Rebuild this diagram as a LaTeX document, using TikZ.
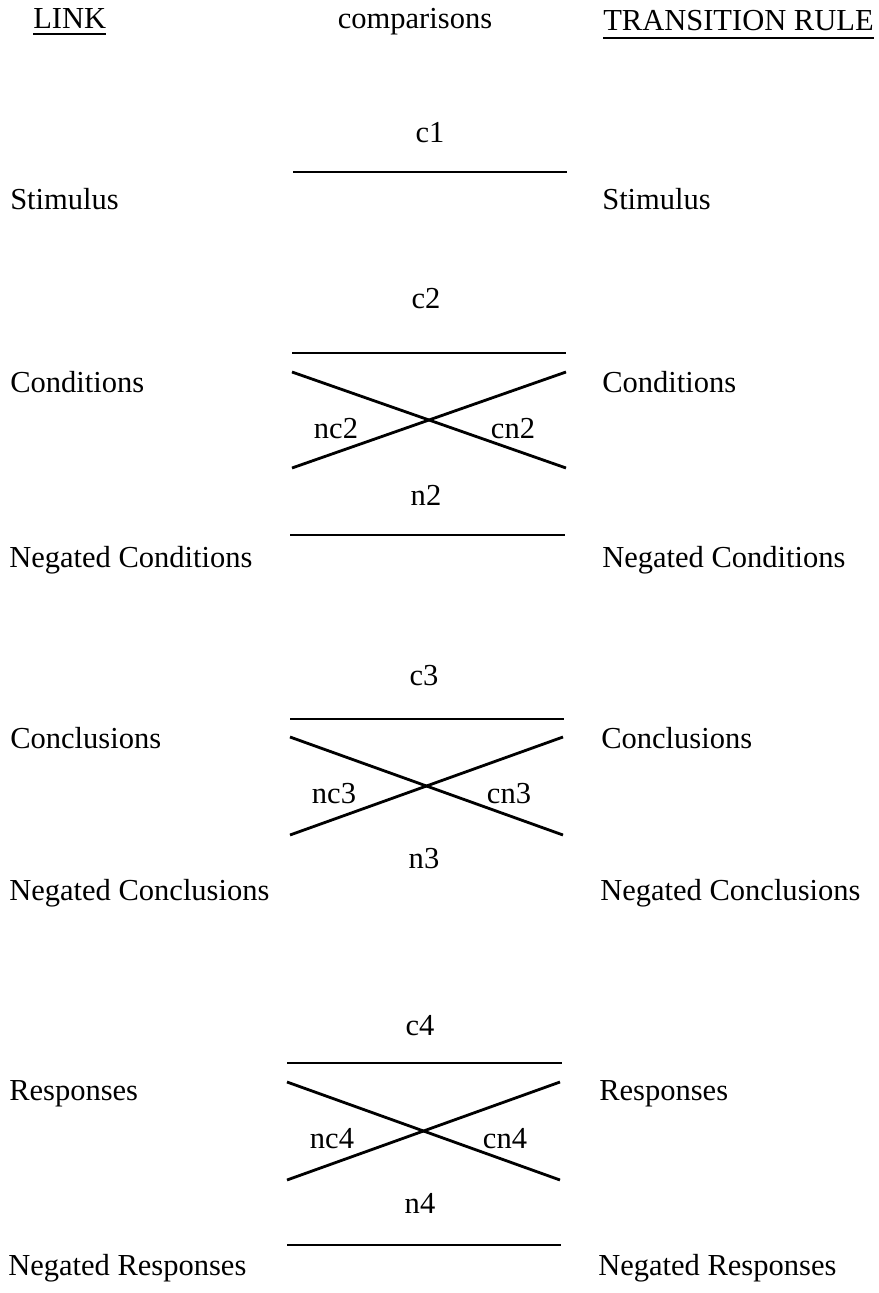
\documentclass[tikz,border=0pt]{standalone}
\usepackage{fontspec}
\setmainfont{Liberation Serif}
\usetikzlibrary{calc}

\begin{document}
\begin{tikzpicture}[x=0.025cm, y=-0.025cm,
  every node/.style={font=\fontsize{21.7}{25}\selectfont, inner sep=0pt},
  rowlabel/.style={anchor=base west},
  cmplabel/.style={anchor=base},
  cmpline/.style={line width=2pt}]
\useasboundingbox (0,0) rectangle (879,1293);
% headings
\node[rowlabel] (link) at (33,29) {LINK};
\node[cmplabel] (comp) at (415,29) {comparisons};
\node[rowlabel] (rule) at (603,31) {TRANSITION RULE};
\draw[line width=1.5pt] ($(link.base west)+(0,5)$) -- ($(link.base east)+(0,5)$);
\draw[line width=1.5pt] ($(rule.base west)+(0,7)$) -- ($(rule.base east)+(0,7)$);
% rows, link side
\node[rowlabel] (stimL) at (10,210) {Stimulus};
\node[rowlabel] (condL) at (10,392) {Conditions};
\node[rowlabel] (ncondL) at (9,567) {Negated Conditions};
\node[rowlabel] (conclL) at (10,748) {Conclusions};
\node[rowlabel] (nconclL) at (9,900) {Negated Conclusions};
\node[rowlabel] (respL) at (9,1100) {Responses};
\node[rowlabel] (nrespL) at (8,1275) {Negated Responses};
% rows, rule side
\node[rowlabel] (stimR) at (602,210) {Stimulus};
\node[rowlabel] (condR) at (602,392) {Conditions};
\node[rowlabel] (ncondR) at (602,567) {Negated Conditions};
\node[rowlabel] (conclR) at (601,748) {Conclusions};
\node[rowlabel] (nconclR) at (600,900) {Negated Conclusions};
\node[rowlabel] (respR) at (599,1100) {Responses};
\node[rowlabel] (nrespR) at (598,1275) {Negated Responses};
% stimulus
\node[cmplabel] (c1) at (430,143) {c1};
\coordinate (c1w) at (293,172);
\coordinate (c1e) at (567,172);
\draw[cmpline] (c1w) -- (c1e);
% conditions
\node[cmplabel] (c2) at (426,308) {c2};
\node[cmplabel] (nc2) at (336,438) {nc2};
\node[cmplabel] (cn2) at (513,438) {cn2};
\node[cmplabel] (n2) at (426,505) {n2};
\coordinate (c2w) at (292,353);
\coordinate (c2e) at (566,353);
\coordinate (x2nw) at (292,372);
\coordinate (x2ne) at (566,372);
\coordinate (x2sw) at (292,468);
\coordinate (x2se) at (566,468);
\coordinate (n2w) at (290,535);
\coordinate (n2e) at (565,535);
\draw[cmpline] (c2w) -- (c2e);
\draw[cmpline] (x2nw) -- (x2se);
\draw[cmpline] (x2sw) -- (x2ne);
\draw[cmpline] (n2w) -- (n2e);
% conclusions
\node[cmplabel] (c3) at (424,685) {c3};
\node[cmplabel] (nc3) at (334,803) {nc3};
\node[cmplabel] (cn3) at (509,803) {cn3};
\node[cmplabel] (n3) at (424,868) {n3};
\coordinate (c3w) at (290,719);
\coordinate (c3e) at (564,719);
\coordinate (x3nw) at (290,737);
\coordinate (x3ne) at (563,737);
\coordinate (x3sw) at (290,835);
\coordinate (x3se) at (563,835);
\draw[cmpline] (c3w) -- (c3e);
\draw[cmpline] (x3nw) -- (x3se);
\draw[cmpline] (x3sw) -- (x3ne);
% responses
\node[cmplabel] (c4) at (420,1035) {c4};
\node[cmplabel] (nc4) at (332,1148) {nc4};
\node[cmplabel] (cn4) at (505,1148) {cn4};
\node[cmplabel] (n4) at (420,1213) {n4};
\coordinate (c4w) at (287,1063);
\coordinate (c4e) at (562,1063);
\coordinate (x4nw) at (287,1082);
\coordinate (x4ne) at (560,1082);
\coordinate (x4sw) at (287,1180);
\coordinate (x4se) at (560,1180);
\coordinate (n4w) at (287,1245);
\coordinate (n4e) at (561,1245);
\draw[cmpline] (c4w) -- (c4e);
\draw[cmpline] (x4nw) -- (x4se);
\draw[cmpline] (x4sw) -- (x4ne);
\draw[cmpline] (n4w) -- (n4e);
\end{tikzpicture}
\end{document}
